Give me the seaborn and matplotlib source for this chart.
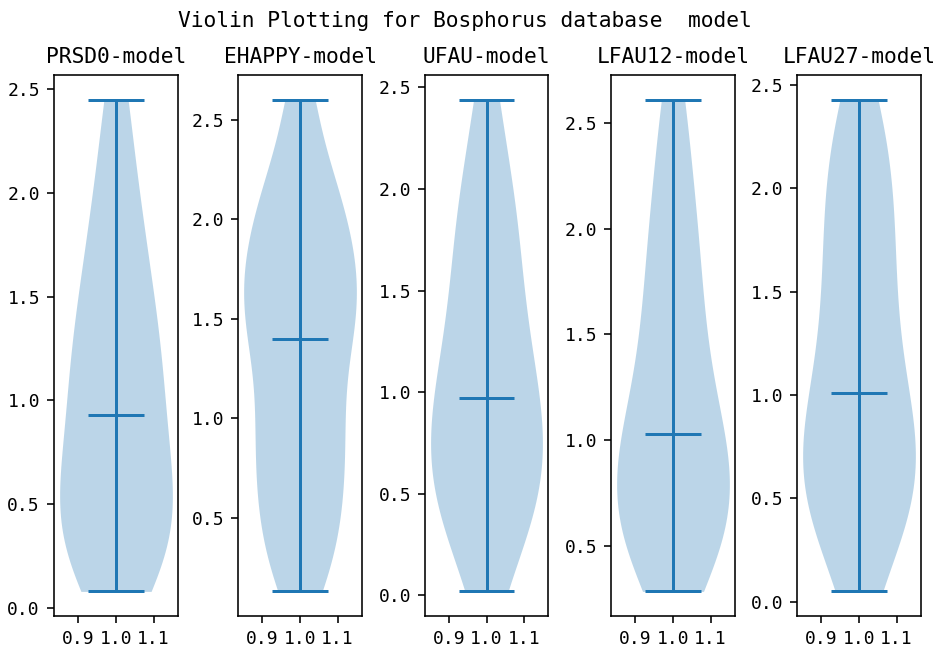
import numpy as np
import matplotlib
matplotlib.use("Agg")
import matplotlib.pyplot as plt
import seaborn as sns

plt.rcParams['font.family'] = ['DejaVu Sans Mono']

suptitle = "Violin Plotting for Bosphorus database  model"
titles = ["PRSD0-model", "EHAPPY-model", "UFAU-model", "LFAU12-model", "LFAU27-model"]

prsd0 = [0.08, 0.16, 0.24, 0.32, 0.39, 0.47, 0.54, 0.62, 0.71, 0.81, 0.93,
         1.02, 1.12, 1.22, 1.33, 1.45, 1.58, 1.73, 1.91, 2.12, 2.45]
ehappy = [0.13, 0.30, 0.44, 0.56, 0.68, 0.80, 0.91, 1.03, 1.15, 1.27, 1.40,
          1.47, 1.56, 1.65, 1.74, 1.83, 1.92, 2.03, 2.16, 2.30, 2.60]
ufau = [0.02, 0.22, 0.34, 0.43, 0.51, 0.58, 0.66, 0.74, 0.82, 0.90, 0.97,
        1.07, 1.17, 1.28, 1.40, 1.53, 1.67, 1.81, 1.96, 2.13, 2.44]
lfau12 = [0.285, 0.39, 0.475, 0.55, 0.62, 0.69, 0.75, 0.82, 0.89, 0.96, 1.03,
          1.12, 1.23, 1.35, 1.48, 1.62, 1.77, 1.93, 2.10, 2.32, 2.61]
lfau27 = [0.05, 0.25, 0.36, 0.45, 0.53, 0.60, 0.67, 0.75, 0.83, 0.92, 1.01,
          1.13, 1.26, 1.39, 1.53, 1.67, 1.81, 1.95, 2.09, 2.25, 2.43]
series = [prsd0, ehappy, ufau, lfau12, lfau27]
bw_adjusts = [0.8, 0.6, 0.8, 0.8, 0.8]

position = 1.0
violin_width = 0.3
xticks = [0.9, 1.0, 1.1]
blue = "#1f77b4"

W, H = 937, 650
dpi = 144
fig = plt.figure(figsize=(W / dpi, H / dpi), dpi=dpi)

lefts = [54, 238, 425, 611, 797]
widths = [124, 124, 123, 124, 124]
ax_bottom, ax_top = 616, 75

for i, (vals, title) in enumerate(zip(series, titles)):
    ax = fig.add_axes([lefts[i] / W, (H - ax_bottom) / H, widths[i] / W,
                       (ax_bottom - ax_top) / H])
    y = np.asarray(vals, dtype=float)
    x = np.full(len(y), position)
    sns.violinplot(x=x, y=y, native_scale=True, orient="x", width=violin_width,
                   cut=0, inner=None, bw_adjust=bw_adjusts[i], density_norm="width",
                   color=blue, saturation=1, linewidth=0, alpha=0.3, ax=ax)
    lo, hi, med = y.min(), y.max(), np.median(y)
    half = violin_width / 4
    ax.hlines([lo, hi, med], position - half, position + half,
              colors=blue, linewidth=1.5)
    ax.vlines(position, lo, hi, colors=blue, linewidth=1.5)
    ax.set_xticks(xticks)
    ax.set_xticklabels([f"{t:.1f}" for t in xticks])
    ax.tick_params(labelsize=9)
    ax.set_title(title, fontsize=10.6)
    ax.set_xlabel("")
    ax.set_ylabel("")

fig.suptitle(suptitle, x=0.496, y=1 - 26.7 / H, va="baseline", fontsize=10.6)
fig.savefig("out.png", dpi=dpi)
